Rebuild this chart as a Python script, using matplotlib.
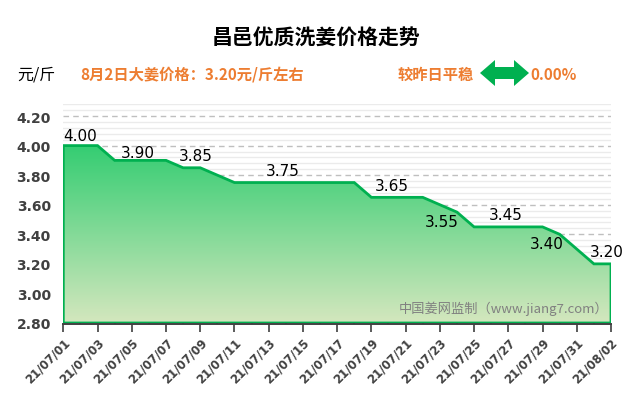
import numpy as np
import pandas as pd
import matplotlib
matplotlib.use("Agg")
import matplotlib.pyplot as plt
from matplotlib.patches import Polygon
from matplotlib.ticker import MultipleLocator, FixedLocator

plt.rcParams['font.family'] = ['Noto Sans CJK SC', 'DejaVu Sans']

# data
dates = pd.date_range("2021-07-01", "2021-08-02", freq="D")
prices = [4.00, 4.00, 4.00, 3.90, 3.90, 3.90, 3.90, 3.85, 3.85, 3.80, 3.75,
          3.75, 3.75, 3.75, 3.75, 3.75, 3.75, 3.75, 3.65, 3.65, 3.65, 3.65,
          3.60, 3.55, 3.45, 3.45, 3.45, 3.45, 3.45, 3.40, 3.30, 3.20, 3.20]
# which points get a value label, and where the label sits (pixels from the point)
label_idx = [0, 4, 8, 13, 19, 23, 26, 29, 32]
label_off = [(17, 10), (6, 8), (-4, 12), (-3, 12), (3, 12), (-15, -9), (-3, 12), (-13, -9), (-4, 12)]

title = "昌邑优质洗姜价格走势"
unit = "元/斤"
today_text = "8月2日大姜价格：3.20元/斤左右"
change_text = "较昨日平稳"
change_pct = "0.00%"
watermark = "中国姜网监制（www.jiang7.com）"

green = "#00b050"
orange = "#ed7d31"
dark = "#404040"
ymin, ymax = 2.80, 4.28

W, H = 640, 410
fig = plt.figure(figsize=(W / 100, H / 100), dpi=100)
ax = fig.add_axes([63.3 / W, (H - 324) / H, (611 - 63.3) / W, (324 - 105.2) / H])

# spines first: moving a spine resets the ticks
for s in ['left', 'right', 'top']:
    ax.spines[s].set_visible(False)
ax.spines['bottom'].set_color(dark)
ax.spines['bottom'].set_linewidth(1.4)
ax.spines['bottom'].set_position(('outward', 1))

x = np.arange(len(prices))
ax.set_xlim(0, len(prices) - 1)
ax.set_ylim(ymin, ymax)

# area outline
verts = [(x[0], ymin)] + list(zip(x, prices)) + [(x[-1], ymin)]
poly = Polygon(verts, closed=True, facecolor='none', edgecolor=green, lw=2.0,
               joinstyle='miter', zorder=3)
ax.add_patch(poly)

# gradient fill clipped to the area
top_c = np.array([52, 205, 114]) / 255
bot_c = np.array([212, 231, 190]) / 255
t = np.linspace(0, 1, 256)[:, None]
grad = (top_c * (1 - t) + bot_c * t)[:, None, :]
im = ax.imshow(grad, extent=[x[0], x[-1], ymin, max(prices)], aspect='auto',
               origin='upper', zorder=2, interpolation='bilinear')
im.set_clip_path(poly)

# value labels
for i, (dx, dy) in zip(label_idx, label_off):
    ax.annotate("%.2f" % prices[i], (x[i], prices[i]), xytext=(dx, dy),
                textcoords='offset pixels', ha='center', va='center',
                fontsize=11, family='DejaVu Sans', color='black', zorder=5)

# grid
yt = np.arange(2.80, 4.21, 0.20)
ax.yaxis.set_major_locator(FixedLocator(yt))
ax.yaxis.set_minor_locator(MultipleLocator(0.04))
ax.yaxis.grid(True, which='minor', color='#ebebeb', lw=1.0, zorder=0)
ax.yaxis.grid(True, which='major', color='#bfbfbf', lw=1.0, ls=(0, (4, 3)), zorder=0)
ax.set_axisbelow(True)
ax.set_yticklabels(["%.2f" % v for v in yt], fontweight='bold',
                   family='DejaVu Sans')
ax.tick_params(axis='y', which='both', length=0, pad=9, labelsize=10,
               labelcolor=dark)

# x axis
ax.set_xticks(x[::2])
ax.set_xticks(x, minor=True)
ax.tick_params(axis='x', which='major', length=6, width=1.2, color=dark,
               direction='out', pad=2, labelsize=8.5, labelcolor=dark)
ax.tick_params(axis='x', which='minor', length=3, width=1.2, color=dark,
               direction='in')
ax.set_xticklabels([d.strftime("%y/%m/%d") for d in dates[::2]],
                   rotation=45, ha='right', rotation_mode='anchor',
                   fontweight='bold', family='DejaVu Sans')

ax.text(0.995, 0.105 / (ymax - ymin), watermark,
        transform=ax.transAxes, ha='right', va='center', fontsize=9.5,
        color='#808080', zorder=6)

# header
def fy(py):
    return (H - py) / H

fig.text(316 / W, fy(37), title, ha='center', va='center', fontsize=15,
         fontweight='bold', color='black')
fig.text(17 / W, fy(75), unit, ha='left', va='center', fontsize=11.5,
         color='black')
fig.text(80 / W, fy(75), today_text, ha='left', va='center', fontsize=11,
         fontweight='bold', color=orange)
fig.text(398 / W, fy(75), change_text, ha='left', va='center', fontsize=11,
         fontweight='bold', color=orange)
fig.text(530 / W, fy(75), change_pct, ha='left', va='center', fontsize=11,
         fontweight='bold', color=orange)

arrow_px = [(480, 74), (495, 61), (495, 68), (514, 68), (514, 61), (529, 74),
            (514, 87), (514, 80), (495, 80), (495, 87)]
arrow = Polygon([(px / W, fy(py)) for px, py in arrow_px], closed=True,
                transform=fig.transFigure, facecolor=green, edgecolor='none')
fig.patches.append(arrow)

plt.savefig("out.png", dpi=100)
